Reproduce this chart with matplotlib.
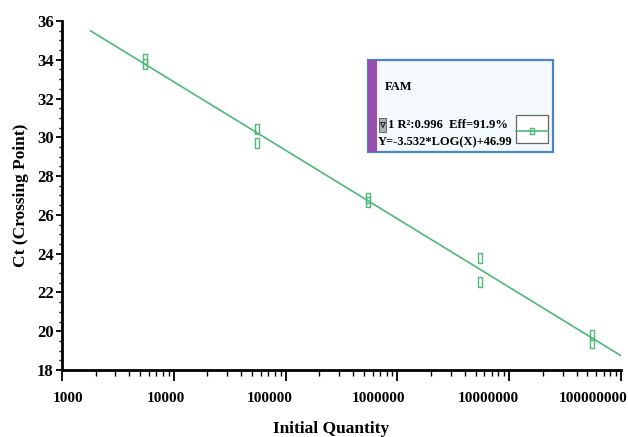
import numpy as np
import matplotlib
matplotlib.use("Agg")
import matplotlib.pyplot as plt
import matplotlib.transforms as mtransforms
from matplotlib.patches import Rectangle
from matplotlib.lines import Line2D
from matplotlib.ticker import FixedLocator, MultipleLocator, LogLocator, NullFormatter

# ---- data ----
quantities = [5.5e3, 5.5e3, 5.5e4, 5.5e4, 5.5e5, 5.5e5, 5.5e6, 5.5e6, 5.5e7, 5.5e7]
ct_values = [34.05, 33.8, 30.45, 29.7, 26.85, 26.65, 23.8, 22.55, 19.8, 19.4]
slope = -3.532
intercept = 46.99
fit_range = [1.8e3, 1.0e8]
x_ticks = [1e3, 1e4, 1e5, 1e6, 1e7, 1e8]
x_tick_labels = ["1000", "10000", "100000", "1000000", "10000000", "100000000"]
y_ticks = [18, 20, 22, 24, 26, 28, 30, 32, 34, 36]
legend_name = "FAM"
legend_line1 = "1 R²:0.996  Eff=91.9%"
legend_line2 = "Y=-3.532*LOG(X)+46.99"

green = "#4fb87a"
serif = ["Liberation Serif", "DejaVu Serif"]

fig = plt.figure(figsize=(6.28, 4.37), dpi=100)
ax = fig.add_axes([0.0987, 0.1533, 0.8903, 0.7987])

xf = np.array(fit_range)
ax.plot(xf, slope * np.log10(xf) + intercept, color=green, lw=1.2, zorder=2)
rect_marker = [(-0.5, -1), (0.5, -1), (0.5, 1), (-0.5, 1), (-0.5, -1)]
ax.plot(quantities, ct_values, linestyle="none", marker=rect_marker, markersize=7,
        markerfacecolor="none", markeredgecolor=green, markeredgewidth=1.0, zorder=3)

ax.set_xscale("log")
ax.set_xlim(1e3, 1e8)
ax.set_ylim(18, 36)
ax.xaxis.set_major_locator(FixedLocator(x_ticks))
ax.set_xticklabels(x_tick_labels)
ax.xaxis.set_minor_locator(LogLocator(base=10, subs=np.arange(2, 10), numticks=20))
ax.xaxis.set_minor_formatter(NullFormatter())
ax.yaxis.set_major_locator(FixedLocator(y_ticks))
ax.yaxis.set_minor_locator(MultipleLocator(0.5))

for s in ["top", "right"]:
    ax.spines[s].set_visible(False)
for s in ["left", "bottom"]:
    ax.spines[s].set_linewidth(2.0)
    ax.spines[s].set_color("black")

ax.tick_params(axis="x", which="major", direction="out", length=8, width=1.3, pad=8)
ax.tick_params(axis="x", which="minor", direction="out", length=4, width=1.0)
ax.tick_params(axis="y", which="major", direction="out", length=4, width=1.3, pad=2)
ax.tick_params(axis="y", which="minor", direction="out", length=2.5, width=1.0)

label_shift_px = [6, -8, -16, -19, -21, -28]
for lab, dx in zip(ax.get_xticklabels(), label_shift_px):
    lab.set_fontfamily(serif)
    lab.set_fontweight("bold")
    lab.set_fontsize(11)
    lab.set_transform(lab.get_transform() +
                      mtransforms.ScaledTranslation(dx / 100, 0, fig.dpi_scale_trans))
for lab in ax.get_yticklabels():
    lab.set_fontfamily(serif)
    lab.set_fontweight("bold")
    lab.set_fontsize(12)

ax.set_xlabel("Initial Quantity", fontfamily=serif, fontweight="bold", fontsize=12.5)
ax.xaxis.set_label_coords(0.482, -0.145)
ax.set_ylabel("Ct (Crossing Point)", fontfamily=serif, fontweight="bold", fontsize=12.5, labelpad=6)

# ---- custom legend box ----
W, H = 628.0, 437.0
def fx(px): return px / W
def fy(py): return 1 - py / H

fig.patches.append(Rectangle((fx(368), fy(152)), fx(553) - fx(368), fy(60) - fy(152),
                             transform=fig.transFigure, facecolor="#f3f9fc",
                             edgecolor="#4a86c5", lw=1.6, zorder=5))
fig.patches.append(Rectangle((fx(368), fy(152)), fx(377) - fx(368), fy(60) - fy(152),
                             transform=fig.transFigure, facecolor="#9650b0",
                             edgecolor="none", zorder=6))
fig.text(fx(385), fy(87), legend_name, fontfamily=serif, fontweight="bold",
         fontsize=9, va="center", ha="left", zorder=7)
fig.patches.append(Rectangle((fx(379), fy(132)), fx(386) - fx(379), fy(118) - fy(132),
                             transform=fig.transFigure, facecolor="#b0b0b0",
                             edgecolor="#555555", lw=0.6, zorder=6))
fig.text(fx(382.5), fy(125), "∇", fontfamily=["DejaVu Sans"], fontsize=6,
         color="#222222", fontweight="bold", va="center", ha="center", zorder=7)
fig.text(fx(388), fy(125), legend_line1, fontfamily=serif, fontweight="bold",
         fontsize=9.1, va="center", ha="left", zorder=7)
fig.text(fx(378), fy(142), legend_line2, fontfamily=serif, fontweight="bold",
         fontsize=9, va="center", ha="left", zorder=7)
fig.patches.append(Rectangle((fx(516), fy(143)), fx(548) - fx(516), fy(115) - fy(143),
                             transform=fig.transFigure, facecolor="white",
                             edgecolor="#666666", lw=0.9, zorder=6))
fig.lines.append(Line2D([fx(516), fx(548)], [fy(131), fy(131)], transform=fig.transFigure,
                        color=green, lw=1.2, zorder=7))
fig.lines.append(Line2D([fx(532)], [fy(131)], transform=fig.transFigure, linestyle="none",
                        marker=rect_marker, markersize=5, markerfacecolor="none",
                        markeredgecolor=green, markeredgewidth=1.0, zorder=8))

fig.savefig("out.png", dpi=100)
